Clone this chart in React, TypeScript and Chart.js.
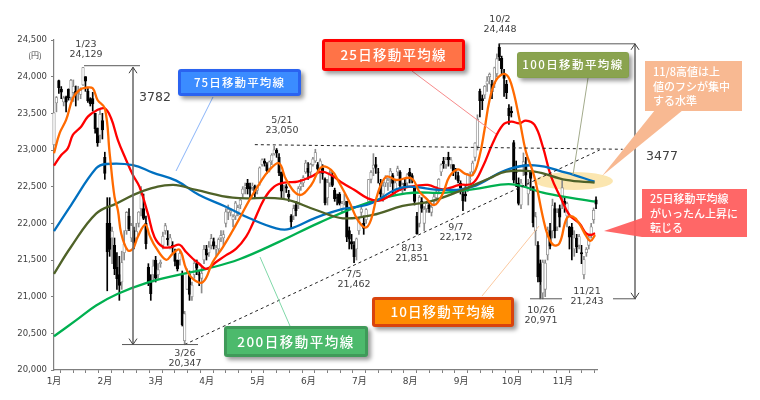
import React, { useEffect, useRef } from "react";
import { Chart, registerables } from "chart.js";

Chart.register(...registerables);

const yTickMin = 20000;
const yTickMax = 24500;
const yTickStep = 500;
const monthLabels = ["1月", "2月", "3月", "4月", "5月", "6月", "7月", "8月", "9月", "10月", "11月"];
const axisTickValues = [
  0, 5.26, 10.52, 15.77, 21.03, 26.29, 31.55, 36.8, 42.06, 47.32, 52.58, 57.83, 63.09, 68.35, 73.61, 78.86,
  84.12, 89.38, 94.64, 99.89, 105.15, 110.41, 115.67, 120.92, 126.18, 131.44, 136.7, 141.95, 147.21, 152.47,
  157.73, 162.98, 168.24, 173.5, 178.76, 184.01, 189.27, 194.53, 199.79, 205.04, 210.3, 215.56, 220.82,
];

const openPrices = [
  23073, 23643, 23948, 23832, 23656, 23720, 23827, 23719, 23783, 23800, 23797, 23757, 23886, 24000, 23800, 23700, 23700, 23500, 23300,
  23200, 23400, 22900, 22000, 22000, 21800, 21700, 21400, 21300, 21200, 21600, 21900, 22100, 21800, 21900, 21800, 22000, 22200, 22200,
  22000, 21400, 21200, 21300, 21500, 21300, 21450, 21700, 21900, 21800, 21650, 21700, 21600, 21500, 21500, 21300, 20400, 21100, 21300, 21000, 21300,
  21450, 21300, 21250, 21500, 21650, 21600, 21700, 21750, 21650, 21650, 21800, 21800, 22000, 22150, 22150, 22050, 22100, 22150, 22250, 22400,
  22500, 22550, 22500, 22500, 22500, 22450, 22550, 22800, 22850, 22800, 22750, 22850, 22950, 23000, 22900, 22700, 22450, 22500, 22400, 22100, 22100,
  22250, 22250, 22500, 22550, 22700, 22750, 22700, 22800, 22850, 22800, 22700, 22750, 22600, 22350, 22550, 22650, 22450, 22350, 22400, 22200, 22300,
  22300, 21900, 21750, 21700, 21650, 21900, 22150, 22000, 22050, 22300, 22600, 22750, 22800, 22700, 22550, 22400, 22550, 22550, 22600, 22650, 22450,
  22700, 22700, 22450, 22550, 22550, 22700, 22650, 22500, 22100, 22000, 22300, 22000, 22200, 22250, 22150, 22300, 22350, 22450, 22700, 22850, 22800, 22900, 22800,
  22800, 22700, 22650, 22550, 22400, 22400, 22450, 22600, 22700, 22900, 23050, 23800, 23700, 23750, 23900, 24000, 23900, 23900,
  24040, 24400, 24250, 24050, 23900, 23570, 23530, 23100, 22700, 22550, 22250, 22800, 22800, 22400, 22700, 22500, 21900, 21700, 21450, 21050, 21100, 21570,
  21900, 21900, 22200, 21950, 22200, 22350, 22300, 22100, 21950, 21950, 21650, 21800, 21700, 21600, 21300, 21600, 21700, 21850, 22050, 22320,
];
const highPrices = [
  23506, 23730, 23952, 23865, 23734, 23734, 23834, 23962, 23955, 23873, 23869, 23849, 24129, 24000, 23850, 23713, 23787, 23500, 23300,
  23550, 23500, 22970, 22350, 22350, 21950, 21800, 21600, 21550, 21620, 21900, 22160, 22200, 22000, 21950, 22000, 22160, 22500, 22400,
  22100, 21450, 21300, 21500, 21550, 21450, 21500, 21880, 22000, 21900, 21850, 21750, 21650, 21500, 21620, 21350, 20800, 21380, 21350, 21200, 21500,
  21500, 21350, 21400, 21700, 21700, 21750, 21850, 21800, 21700, 21800, 21900, 21900, 22200, 22250, 22200, 22120, 22300, 22250, 22350, 22500,
  22550, 22600, 22550, 22550, 22520, 22520, 22770, 22880, 22880, 22830, 22850, 22950, 23050, 23020, 22950, 22700, 22520, 22530, 22450, 22120, 22250,
  22300, 22500, 22600, 22650, 22860, 22830, 22820, 22900, 23010, 22830, 22880, 22800, 22620, 22600, 22720, 22700, 22480, 22400, 22420, 22300, 22400,
  22300, 21950, 21850, 21750, 21800, 22080, 22250, 22100, 22200, 22600, 22720, 22950, 22900, 22750, 22600, 22560, 22650, 22620, 22750, 22680, 22600,
  22780, 22720, 22550, 22600, 22680, 22750, 22680, 22500, 22150, 22380, 22350, 22230, 22300, 22300, 22250, 22400, 22500, 22610, 22810, 22900, 22900, 22970, 22900,
  22800, 22750, 22700, 22580, 22450, 22500, 22680, 22700, 22850, 23100, 23480, 23830, 23750, 23880, 24000, 24050, 23950, 24130,
  24310, 24448, 24280, 24100, 23950, 23620, 23590, 23130, 22850, 22620, 22600, 22960, 22900, 22600, 22700, 22500, 22150, 21750, 21500, 21500, 21500, 21950,
  22000, 22330, 22280, 22200, 22250, 22583, 22350, 22290, 21960, 22000, 21900, 21850, 21850, 21700, 21550, 21670, 21850, 22000, 22210, 22360,
];
const lowPrices = [
  23065, 23520, 23770, 23700, 23601, 23520, 23680, 23680, 23662, 23600, 23680, 23700, 23880, 23800, 23650, 23600, 23530, 23230, 23050,
  23100, 23150, 22600, 21080, 21550, 21450, 21300, 21100, 20950, 21100, 21500, 21850, 21900, 21750, 21650, 21750, 21950, 22100, 22050,
  21650, 21150, 20950, 21200, 21200, 21250, 21400, 21650, 21850, 21700, 21650, 21600, 21420, 21350, 21430, 20600, 20347, 21100, 20950, 20950, 21250,
  21300, 21150, 21050, 21450, 21500, 21550, 21650, 21650, 21550, 21600, 21750, 21700, 21950, 22050, 22100, 21950, 22050, 22100, 22200, 22350,
  22400, 22400, 22350, 22450, 22350, 22400, 22520, 22780, 22780, 22680, 22700, 22800, 22930, 22900, 22650, 22350, 22350, 22420, 22300, 21930, 22050,
  22100, 22200, 22450, 22500, 22680, 22600, 22650, 22780, 22830, 22700, 22550, 22600, 22250, 22250, 22500, 22500, 22300, 22250, 22250, 22150, 22250,
  21750, 21650, 21650, 21462, 21500, 21850, 22100, 21850, 22000, 22300, 22550, 22650, 22680, 22550, 22350, 22300, 22500, 22450, 22500, 22400, 22400,
  22650, 22450, 22400, 22450, 22500, 22550, 22550, 22250, 21851, 21950, 22150, 21900, 22150, 22150, 22100, 22250, 22300, 22400, 22650, 22750, 22750, 22780, 22750,
  22650, 22600, 22550, 22400, 22172, 22300, 22430, 22520, 22650, 22850, 23000, 23450, 23550, 23700, 23800, 23900, 23700, 23850,
  24000, 24220, 24040, 23730, 23700, 23350, 23450, 22550, 22500, 22250, 22200, 22650, 22500, 22250, 22450, 21950, 21700, 21200, 20971, 20970, 21000, 21500,
  21650, 21800, 21800, 21900, 21950, 22200, 22150, 21950, 21650, 21500, 21550, 21600, 21650, 21450, 21243, 21550, 21650, 21800, 22000, 22200,
];
const closePrices = [
  23506, 23714, 23849, 23788, 23710, 23653, 23714, 23951, 23868, 23763, 23808, 23816, 24124, 23940, 23669, 23631, 23629, 23291, 23098,
  23486, 23274, 22682, 21610, 21645, 21891, 21383, 21244, 21154, 21464, 21720, 22149, 21925, 21970, 21736, 21892, 22153, 22389, 22068,
  21724, 21181, 21042, 21417, 21252, 21368, 21469, 21824, 21968, 21777, 21803, 21676, 21480, 21380, 21591, 20617, 20766, 21317, 21031, 21159, 21454,
  21388, 21292, 21319, 21645, 21567, 21678, 21794, 21687, 21660, 21778, 21835, 21847, 22158, 22191, 22162, 22088, 22278, 22215, 22319, 22467,
  22508, 22472, 22467, 22508, 22408, 22497, 22758, 22865, 22818, 22717, 22838, 22930, 23002, 22960, 22689, 22437, 22450, 22481, 22358, 22018, 22201,
  22171, 22475, 22539, 22625, 22823, 22694, 22804, 22878, 22966, 22738, 22851, 22680, 22278, 22555, 22693, 22516, 22338, 22342, 22271, 22270, 22304,
  21811, 21785, 21717, 21546, 21788, 22052, 22196, 21932, 22187, 22597, 22697, 22794, 22764, 22697, 22396, 22510, 22614, 22586, 22712, 22544, 22553,
  22746, 22512, 22525, 22507, 22662, 22644, 22598, 22298, 21857, 22356, 22204, 22192, 22270, 22199, 22219, 22362, 22410, 22601, 22799, 22813, 22869, 22869, 22865,
  22707, 22696, 22580, 22487, 22307, 22373, 22664, 22604, 22821, 23094, 23420, 23672, 23674, 23869, 23940, 24033, 23796, 24120,
  24245, 24270, 24110, 23975, 23783, 23469, 23506, 22590, 22694, 22271, 22549, 22841, 22658, 22532, 22614, 22010, 22091, 21268, 21200, 21470, 21457, 21910,
  21687, 22243, 21898, 22147, 22085, 22486, 22250, 22269, 21810, 21846, 21803, 21680, 21821, 21583, 21507, 21646, 21812, 21952, 22177, 22262,
];

const ma10Days = [0, 2.3, 5, 7.8, 10.5, 13.3, 16, 18, 21, 23, 25, 26.4, 27.8, 30.5, 32.6, 34.6, 37.7, 39.5, 42, 46.3, 49, 51.9, 54.6, 57.4, 61.5, 65.6, 69.8, 73.9, 76.6, 80.8, 85, 89, 93, 96, 101.4, 106.3, 110.4, 114.5, 118, 122, 125.5, 128.7, 131, 133.8, 137.3, 141.4, 147.6, 151, 153.8, 157.2, 160.7, 163.4, 166.9, 169.6, 173, 175.8, 177.9, 180, 182.7, 186.4, 188.9, 192.4, 195, 198.5, 202, 204, 206.4, 208.9, 211.9, 214.4, 217, 219.9, 221.7, 223.6];
const ma10Values = [22955, 23227, 23410, 23705, 23818, 23850, 23841, 23682, 23568, 22955, 22364, 22178, 21859, 21631, 21654, 21813, 21982, 21836, 21676, 21503, 21585, 21640, 21380, 21244, 21198, 21472, 21677, 21904, 22064, 22319, 22546, 22728, 22818, 22591, 22387, 22523, 22764, 22728, 22546, 22296, 22046, 21941, 22046, 22409, 22637, 22591, 22614, 22432, 22341, 22250, 22409, 22637, 22736, 22682, 22659, 22909, 23273, 23682, 23954, 24036, 23909, 23409, 22980, 22637, 22091, 21841, 21705, 21728, 22068, 22091, 22000, 21828, 21760, 21841];

const ma25Days = [0, 3, 5.7, 7.8, 11.2, 14, 17.4, 20.9, 23.6, 26.4, 29.8, 32.6, 35.3, 38.8, 41.5, 45, 48.4, 51.9, 54.6, 57.4, 60, 62.9, 67, 71, 75.3, 79.4, 82.2, 87, 91, 95.2, 100.7, 106.3, 110.4, 114.5, 119.4, 124.2, 129.7, 134.5, 139.3, 144.1, 149.6, 154.5, 160.7, 167.6, 173, 177.2, 181.3, 185.5, 188.9, 192.4, 195, 198.6, 202, 205.4, 209.5, 213, 217.1, 219.9, 222, 223.6];
const ma25Values = [22786, 22932, 23023, 23205, 23318, 23455, 23536, 23568, 23432, 23136, 22864, 22659, 22500, 22132, 21813, 21677, 21677, 21708, 21608, 21517, 21449, 21380, 21472, 21563, 21654, 21819, 22000, 22341, 22500, 22555, 22568, 22637, 22705, 22659, 22546, 22455, 22341, 22309, 22387, 22477, 22509, 22523, 22464, 22523, 22545, 22773, 23091, 23341, 23386, 23364, 23400, 23341, 23045, 22640, 22341, 22114, 22000, 21864, 21841, 21864];

const ma75Days = [0, 7, 17.4, 21.6, 32.6, 40.8, 50.5, 60, 71, 80.8, 91.8, 97.3, 108.3, 119.4, 130.4, 141.4, 146.9, 160.7, 173, 186.8, 198.6, 211.6, 223.4];
const ma75Values = [21895, 22246, 22750, 22809, 22795, 22691, 22582, 22386, 22227, 22069, 21932, 21923, 22078, 22196, 22264, 22464, 22500, 22455, 22500, 22727, 22791, 22691, 22568];

const ma100Days = [0, 7, 17.4, 25.7, 36.7, 49, 58.7, 73.9, 94.6, 108.3, 119.4, 131.7, 144.1, 155.2, 167.6, 180, 186.8, 198.6, 211.6, 223.4];
const ma100Values = [21312, 21677, 22132, 22269, 22440, 22525, 22455, 22350, 22332, 22182, 22069, 22114, 22237, 22296, 22440, 22614, 22705, 22705, 22591, 22555];

const ma200Days = [0, 9.2, 17.4, 26.4, 38, 50.5, 64.3, 76.6, 93.2, 109.7, 129, 145.5, 162, 175.8, 189.3, 203.3, 223.6];
const ma200Values = [20460, 20680, 20880, 21040, 21185, 21290, 21390, 21510, 21750, 22010, 22273, 22409, 22420, 22477, 22532, 22409, 22296];

const topLineDays = [83, 235];
const topLineValues = [23073, 23010];
const trendLineDays = [54, 225.5];
const trendLineValues = [20347, 23000];

const peakLabels = ["1/23", "3/26", "5/21", "7/5", "8/13", "9/7", "10/2", "10/26", "11/21"];
const peakValues = ["24,129", "20,347", "23,050", "21,462", "21,851", "22,172", "24,448", "20,971", "21,243"];
const peakCenters = [[86, 45], [185, 354], [282, 121], [354, 275], [412, 249], [456, 228], [500, 20], [541, 311], [587, 292]];

const rangeLow = 20347;
const rangeHigh = 24129;
const range2Low = 20971;
const range2High = 24448;

const calloutTexts = ["75日移動平均線", "25日移動平均線", "100日移動平均線", "200日移動平均線", "10日移動平均線"];
const note1Lines = ["11/8高値は上", "値のフシが集中", "する水準"];
const note2Lines = ["25日移動平均線", "がいったん上昇に", "転じる"];

const dark = "#404040";
const latin = '"DejaVu Sans","Noto Sans CJK JP",sans-serif';
const cjk = '"Noto Sans CJK JP",sans-serif';

const calloutStyles = [
  { box: [178, 69, 123, 27], fill: "#3b8cff", edge: "#2a63f0", lw: 3, size: 11.5, tw: 90, leader: [213, 97, 176, 171], leaderColor: "#8ab4f8" },
  { box: [322, 39, 143, 32], fill: "#ff7347", edge: "#ff0000", lw: 3, size: 13.5, tw: 105, leader: [412, 71, 496, 134], leaderColor: "#f78a8a" },
  { box: [517, 52, 112, 26], fill: "#8aa34f", edge: "#84a04a", lw: 1, size: 11.5, tw: 100, leader: [588, 78, 573, 175], leaderColor: "#a3ab8c" },
  { box: [224, 326, 144, 31], fill: "#4cba6c", edge: "#3f9a59", lw: 3, size: 13.5, tw: 116, leader: [290, 326, 260, 257], leaderColor: "#7fd8a8" },
  { box: [372, 297, 142, 30], fill: "#ff8c00", edge: "#d9430c", lw: 3, size: 13.5, tw: 104, leader: [482, 296, 539, 226], leaderColor: "#fbc9a0" },
];

const annotationPlugin = {
  id: "annotations",
  beforeDatasetsDraw(chart: any) {
    const ctx = chart.ctx;
    ctx.save();
    ctx.fillStyle = "#fbe6b0";
    ctx.beginPath();
    ctx.ellipse(574, 181, 39, 9, 0, 0, Math.PI * 2);
    ctx.fill();
    ctx.restore();
  },
  afterDatasetsDraw(chart: any) {
    const ctx = chart.ctx;
    const X = (v: number) => chart.scales.x.getPixelForValue(v);
    const Y = (v: number) => chart.scales.y.getPixelForValue(v);
    const seg = (x1: number, y1: number, x2: number, y2: number, color: string, w = 1, dash: number[] = []) => {
      ctx.save();
      ctx.strokeStyle = color;
      ctx.lineWidth = w;
      ctx.setLineDash(dash);
      ctx.beginPath();
      ctx.moveTo(x1, y1);
      ctx.lineTo(x2, y2);
      ctx.stroke();
      ctx.restore();
    };
    const text = (s: string, x: number, y: number, font: string, color: string, align = "center", width?: number) => {
      ctx.save();
      ctx.font = font;
      ctx.fillStyle = color;
      ctx.textAlign = align;
      ctx.textBaseline = "middle";
      if (width) {
        // spread the glyphs so that the line fills the width
        const natural = ctx.measureText(s).width;
        const gap = (width - natural) / Math.max(1, s.length - 1);
        ctx.letterSpacing = gap + "px";
      }
      ctx.fillText(s, x, y);
      ctx.restore();
    };
    // reference dashed lines
    seg(X(topLineDays[0]), Y(topLineValues[0]), X(topLineDays[1]), Y(topLineValues[1]), "#222222", 1, [3, 3]);
    seg(X(trendLineDays[0]), Y(trendLineValues[0]), X(trendLineDays[1]), Y(trendLineValues[1]), "#222222", 1, [3, 3]);

    // range brackets
    const bracketColor = "#595959";
    const y1 = Y(rangeHigh);
    const y2 = Y(rangeLow);
    seg(84, y1 - 1.5, 140, y1 - 1.5, bracketColor, 1);
    seg(122, y2, 198, y2, bracketColor, 1);
    seg(133, y1, 133, y2, "#6e6e6e", 1.6);
    const head = (x: number, y: number, d: number) => {
      seg(x, y, x - 4, y + d * 6, "#404040", 1);
      seg(x, y, x + 4, y + d * 6, "#404040", 1);
    };
    head(133, y1, 1);
    head(133, y2, -1);
    const y3 = Y(range2High);
    const y4 = Y(range2Low);
    seg(499, y3, 635, y3, bracketColor, 1);
    seg(530, y4, 562, y4, bracketColor, 1);
    seg(613, y4, 636, y4, bracketColor, 1);
    seg(541, y4 - 14, 541, y4, "#8c8c8c", 1);
    seg(635, y3, 635, y4, "#6e6e6e", 1.6);
    head(635, y3, 1);
    head(635, y4, -1);
    text("3782", 155, 98, "12.5px " + latin, dark);
    text("3477", 662, 157, "12.5px " + latin, dark);
    text("(円)", 35, 55, "8px " + cjk, dark);

    // peak labels
    peakLabels.forEach((label, i) => {
      const [cx, cy] = peakCenters[i];
      text(label, cx, cy, "9.5px " + latin, dark);
      text(peakValues[i], cx, cy + 9.5, "9.5px " + latin, dark);
    });

    // callouts
    calloutTexts.forEach((s, i) => {
      const st = calloutStyles[i];
      const [lx1, ly1, lx2, ly2] = st.leader;
      seg(lx1, ly1, lx2, ly2, st.leaderColor, 1);
      const [x, y, w, h] = st.box;
      ctx.save();
      ctx.shadowColor = "rgba(0,0,0,0.4)";
      ctx.shadowBlur = 4;
      ctx.shadowOffsetX = 3;
      ctx.shadowOffsetY = 3;
      ctx.fillStyle = st.edge;
      ctx.beginPath();
      ctx.roundRect(x, y, w, h, 3);
      ctx.fill();
      ctx.restore();
      ctx.fillStyle = st.fill;
      ctx.fillRect(x + st.lw, y + st.lw, w - 2 * st.lw, h - 2 * st.lw);
      text(s, x + w / 2, y + h / 2, "500 " + st.size + "px " + cjk, "#ffffff", "center", st.tw);
    });

    // note 1
    ctx.save();
    ctx.fillStyle = "#f8b992";
    ctx.beginPath();
    ctx.moveTo(655, 110);
    ctx.lineTo(602, 176);
    ctx.lineTo(683, 110);
    ctx.closePath();
    ctx.fill();
    ctx.fillRect(645, 61, 97, 50);
    ctx.restore();
    note1Lines.forEach((s, i) => text(s, 653, 72 + i * 14.5, "500 11px " + cjk, "#ffffff", "left"));

    // note 2
    ctx.save();
    ctx.fillStyle = "rgba(255,90,90,0.92)";
    ctx.beginPath();
    ctx.moveTo(642, 218);
    ctx.lineTo(604, 231);
    ctx.lineTo(642, 237);
    ctx.closePath();
    ctx.fill();
    ctx.fillRect(642, 189, 105, 48);
    ctx.restore();
    note2Lines.forEach((s, i) => text(s, 650, 199 + i * 14.5, "500 11px " + cjk, "#ffffff", "left"));
  },
};

const points = (days: number[], values: number[]) => days.map((d, i) => ({ x: d, y: values[i] }));

const lineSet = (label: string, days: number[], values: number[], color: string, order: number, width = 2.3) => ({
  type: "line",
  label,
  data: points(days, values),
  borderColor: color,
  backgroundColor: color,
  borderWidth: width,
  pointRadius: 0,
  tension: 0.4,
  order,
  clip: false,
});

export default function App() {
  const ref = useRef<HTMLCanvasElement | null>(null);
  useEffect(() => {
    const up = closePrices.map((c, i) => c >= openPrices[i]);
    const chart = new Chart(ref.current as HTMLCanvasElement, {
      type: "bar",
      plugins: [annotationPlugin],
      data: {
        datasets: [
          lineSet("200日移動平均線", ma200Days, ma200Values, "#00b050", 5),
          lineSet("75日移動平均線", ma75Days, ma75Values, "#0070c0", 3),
          lineSet("100日移動平均線", ma100Days, ma100Values, "#4f6228", 2),
          lineSet("25日移動平均線", ma25Days, ma25Values, "#ff0000", 4),
          lineSet("10日移動平均線", ma10Days, ma10Values, "#ff6a00", 1),
          {
            type: "bar",
            label: "body",
            grouped: false,
            barThickness: 2.6,
            borderWidth: 0.8,
            borderSkipped: false,
            data: closePrices.map((c, i) => ({ x: i, y: [openPrices[i], c] })),
            backgroundColor: up.map((u) => (u ? "#ffffff" : "#000000")),
            borderColor: up.map((u) => (u ? "#8c8c8c" : "#000000")),
            order: 10,
            clip: false,
          },
          {
            type: "bar",
            label: "wick",
            grouped: false,
            barThickness: 1,
            borderWidth: 0,
            data: highPrices.map((h, i) => ({ x: i, y: [lowPrices[i], h] })),
            backgroundColor: up.map((u) => (u ? "#8c8c8c" : "#000000")),
            order: 11,
            clip: false,
          },
        ],
      } as any,
      options: {
        animation: false,
        responsive: false,
        devicePixelRatio: 1,
        layout: { padding: { left: 0, right: 163, top: 40, bottom: 0 } },
        plugins: { legend: { display: false }, tooltip: { enabled: false } },
        scales: {
          x: {
            type: "linear",
            offset: false,
            min: 0,
            max: 224.4,
            afterBuildTicks: (s: any) => {
              s.ticks = axisTickValues.map((v) => ({ value: v }));
            },
            afterFit: (s: any) => {
              s.height = 30;
              s.paddingLeft = s.paddingRight = s.paddingTop = s.paddingBottom = 0;
            },
            grid: { drawOnChartArea: false, tickLength: 3, color: "#7f7f7f" },
            border: { color: "#7f7f7f", width: 1.2 },
            ticks: {
              autoSkip: false,
              maxRotation: 0,
              minRotation: 0,
              padding: 3,
              color: dark,
              font: { family: latin, size: 9 },
              callback: (_v: any, i: number) => (i % 4 === 0 ? monthLabels[i / 4] : ""),
            },
          },
          y: {
            type: "linear",
            min: yTickMin,
            max: yTickMax,
            afterFit: (s: any) => {
              s.width = 54;
              s.paddingLeft = s.paddingRight = s.paddingTop = s.paddingBottom = 0;
            },
            grid: { drawOnChartArea: false, tickLength: 3, color: "#7f7f7f" },
            border: { color: "#7f7f7f", width: 1.2 },
            ticks: {
              stepSize: yTickStep,
              padding: 4,
              color: dark,
              font: { family: latin, size: 8.5 },
              callback: (v: any) => Number(v).toLocaleString("en-US"),
            },
          },
        },
      } as any,
    });
    return () => chart.destroy();
  }, []);
  return (
    <div style={{ position: "absolute", left: 0, top: 0, width: 760, height: 400, background: "#ffffff" }}>
      <canvas ref={ref} width={760} height={400} style={{ display: "block" }} />
    </div>
  );
}
